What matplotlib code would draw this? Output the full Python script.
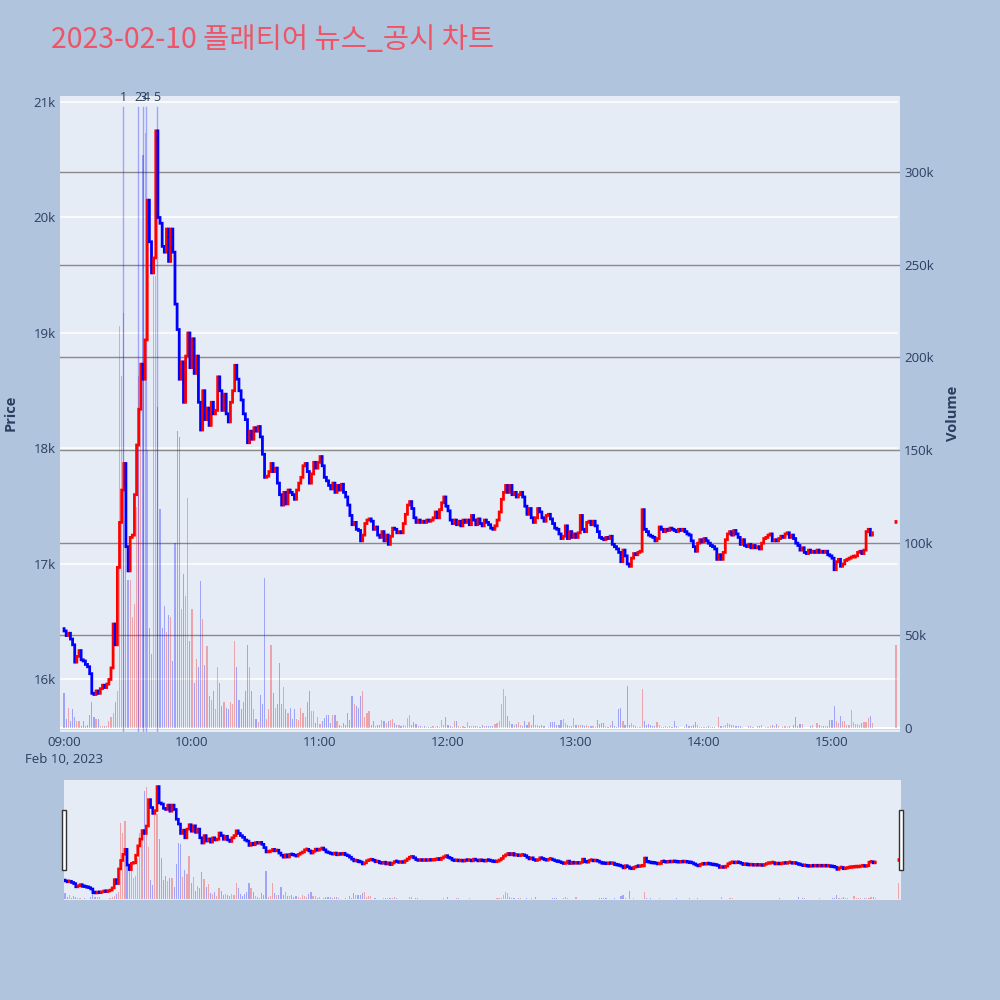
"""
플래티어 2023-02-10 1분봉 + 거래량 차트 (뉴스/공시 시점 표시)
"""
import numpy as np
import pandas as pd

import matplotlib
matplotlib.use('Agg')
import matplotlib.pyplot as plt
import matplotlib.transforms as mtransforms
from matplotlib.patches import Rectangle

plt.rcParams['font.family'] = ['Open Sans', 'Noto Sans CJK KR', 'DejaVu Sans']
plt.rcParams['path.simplify'] = False

TITLE = '2023-02-10 플래티어 뉴스_공시 차트'
START = '2023-02-10 09:00'

# 1분봉 시가(첫 봉) / 종가 09:00 ~ 15:19
FIRST_OPEN = 16440
CLOSES = [
    16420, 16380, 16400, 16350, 16300, 16150, 16200, 16250, 16170, 16160,
    16130, 16110, 16050, 15880, 15870, 15900, 15880, 15920, 15950, 15930,
    15960, 16000, 16100, 16480, 16300, 16970, 17360, 17640, 17870, 17150,
    16940, 17230, 17250, 17600, 18030, 18340, 18730, 18600, 18940, 20150,
    19790, 19520, 19650, 20750, 20000, 19950, 19750, 19700, 19900, 19620,
    19900, 19700, 19250, 19030, 18600, 18750, 18400, 18800, 19000, 18700,
    18950, 18650, 18800, 18400, 18160, 18500, 18250, 18350, 18200, 18400,
    18300, 18330, 18620, 18500, 18330, 18470, 18300, 18230, 18400, 18500,
    18720, 18600, 18500, 18420, 18300, 18250, 18050, 18150, 18080, 18180,
    18150, 18190, 18100, 17950, 17750, 17760, 17800, 17870, 17800, 17830,
    17700, 17600, 17510, 17620, 17520, 17640, 17620, 17600, 17560, 17640,
    17700, 17750, 17850, 17870, 17800, 17700, 17780, 17880, 17830, 17880,
    17930, 17850, 17750, 17720, 17680, 17650, 17700, 17620, 17680, 17640,
    17690, 17620, 17580, 17510, 17420, 17340, 17360, 17300, 17290, 17200,
    17250, 17350, 17380, 17390, 17370, 17300, 17320, 17250, 17230, 17280,
    17200, 17250, 17170, 17240, 17310, 17300, 17270, 17280, 17270, 17350,
    17430, 17510, 17540, 17480, 17400, 17360, 17380, 17360, 17370, 17360,
    17380, 17370, 17380, 17400, 17450, 17400, 17470, 17530, 17580, 17500,
    17460, 17380, 17350, 17380, 17340, 17370, 17330, 17380, 17360, 17380,
    17340, 17420, 17380, 17340, 17390, 17350, 17330, 17380, 17360, 17340,
    17310, 17300, 17330, 17380, 17450, 17560, 17620, 17680, 17620, 17680,
    17600, 17620, 17580, 17600, 17620, 17580, 17500, 17430, 17480, 17400,
    17360, 17400, 17480, 17450, 17400, 17370, 17420, 17430, 17390, 17350,
    17310, 17300, 17260, 17220, 17240, 17330, 17220, 17280, 17230, 17260,
    17230, 17270, 17420, 17300, 17280, 17360, 17370, 17340, 17370, 17330,
    17280, 17230, 17220, 17210, 17230, 17220, 17240, 17170, 17150, 17130,
    17100, 17020, 17120, 17070, 17000, 16980, 17050, 17090, 17080, 17100,
    17110, 17470, 17300, 17280, 17250, 17240, 17230, 17200, 17220, 17320,
    17300, 17280, 17300, 17290, 17310, 17300, 17290, 17280, 17300, 17290,
    17300, 17280, 17260, 17250, 17200, 17150, 17110, 17180, 17210, 17190,
    17220, 17200, 17180, 17160, 17150, 17130, 17040, 17080, 17040, 17100,
    17210, 17260, 17280, 17250, 17290, 17260, 17230, 17170, 17210, 17160,
    17150, 17170, 17140, 17160, 17140, 17150, 17130, 17180, 17220, 17230,
    17250, 17260, 17200, 17210, 17200, 17220, 17240, 17230, 17260, 17270,
    17230, 17250, 17220, 17180, 17160, 17120, 17140, 17100, 17090, 17120,
    17100, 17110, 17100, 17120, 17100, 17110, 17100, 17110, 17080, 17070,
    17050, 16950, 17020, 17040, 16980, 17000, 17030, 17040, 17050, 17060,
    17060, 17070, 17100, 17110, 17090, 17120, 17280, 17300, 17250, 17270,
]
VOLUMES = [
    19000, 5000, 11000, 4000, 10000, 6000, 4000, 4000, 1000, 4000,
    1000, 1500, 7000, 14000, 6000, 5000, 5000, 1000, 800, 800,
    800, 4000, 6000, 8000, 14000, 20000, 217000, 190000, 224000, 139000,
    80000, 80000, 60000, 67000, 119000, 190000, 190000, 309000, 321000, 150000,
    54000, 40000, 244000, 244000, 173000, 118000, 54000, 66000, 52000, 61000,
    60000, 36000, 100000, 160000, 157000, 64000, 83000, 71000, 124000, 47000,
    64000, 24000, 37000, 33000, 79000, 59000, 34000, 44000, 17000, 15000,
    20000, 10000, 33000, 24000, 12000, 14000, 11000, 10000, 14000, 13000,
    47000, 33000, 15000, 10000, 14000, 20000, 45000, 33000, 20000, 10000,
    5000, 3000, 18000, 13000, 81000, 5000, 10000, 45000, 19000, 11000,
    13000, 35000, 13000, 22000, 10000, 8000, 11000, 5000, 10000, 5000,
    4500, 11000, 8000, 6000, 14000, 20000, 9000, 9000, 2700, 6000,
    2000, 3600, 5400, 7000, 7000, 2700, 7000, 7000, 3600, 1800,
    1000, 2700, 1800, 8000, 4500, 17000, 13000, 12000, 11000, 17000,
    20000, 6000, 8000, 9000, 1800, 4000, 1000, 1800, 1500, 4500,
    4000, 2700, 4000, 4500, 5000, 2500, 1800, 1800, 1300, 1800,
    1000, 5400, 7000, 1800, 3000, 2300, 1300, 900, 600, 800,
    500, 700, 600, 900, 500, 800, 600, 4500, 1800, 6000,
    1800, 900, 500, 4000, 3600, 900, 500, 900, 600, 3000,
    900, 1300, 900, 1300, 900, 700, 1800, 1300, 1300, 1300,
    1300, 1300, 2300, 2700, 4000, 13000, 21000, 17000, 6300, 3600,
    2300, 1800, 2200, 3000, 1800, 1300, 4000, 1800, 3000, 1800,
    6800, 1800, 1800, 1300, 1800, 900, 200, 500, 3400, 3000,
    3200, 1800, 1800, 4500, 5000, 2700, 1800, 1300, 900, 5400,
    1800, 1800, 1800, 1800, 1300, 1800, 1300, 1300, 1300, 500,
    4500, 2300, 2500, 2500, 1300, 500, 1800, 3600, 1300, 500,
    10000, 11000, 3600, 1800, 22500, 1800, 2700, 1800, 900, 300,
    300, 21000, 3600, 1800, 2300, 1800, 900, 900, 3200, 1500,
    400, 400, 900, 400, 900, 300, 4000, 900, 500, 200,
    200, 400, 2300, 1300, 1300, 1800, 3000, 1800, 500, 400,
    300, 400, 900, 300, 500, 500, 200, 6000, 1300, 900,
    1500, 2500, 2300, 1800, 1800, 1300, 900, 900, 400, 200,
    200, 900, 1300, 400, 200, 900, 1300, 1800, 200, 400,
    400, 900, 1800, 900, 2300, 900, 200, 400, 900, 400,
    900, 200, 1800, 6000, 900, 2300, 2300, 100, 200, 200,
    1300, 1800, 200, 2700, 1800, 900, 900, 1300, 1300, 4500,
    4500, 12000, 3600, 2700, 6300, 3600, 3600, 1800, 1800, 9900,
    3200, 2300, 2300, 1800, 2700, 3200, 3400, 5400, 6300, 2700,
]

# 장 마감 동시호가
AUCTION_TIME = '2023-02-10 15:30'
AUCTION_PRICE = 17360
AUCTION_VOLUME = 45000

# 뉴스/공시 시점
NEWS_TIMES = ['09:27:48', '09:34:48', '09:37:00', '09:38:36', '09:43:27']
NEWS_LABELS = ['1', '2', '3', '4', '5']

PRICE_TICKS = [16000, 17000, 18000, 19000, 20000, 21000]
PRICE_TICK_LABELS = ['16k', '17k', '18k', '19k', '20k', '21k']
VOLUME_TICKS = [0, 50000, 100000, 150000, 200000, 250000, 300000]
VOLUME_TICK_LABELS = ['0', '50k', '100k', '150k', '200k', '250k', '300k']
HOUR_TICKS = ['09:00', '10:00', '11:00', '12:00', '13:00', '14:00', '15:00']
DATE_LABEL = 'Feb 10, 2023'

BG = '#b0c4de'
PLOT_BG = '#e5ecf6'
TEXT = '#2a3f5f'
UP = '#ff0000'
DOWN = '#0000ff'

X_RANGE = (-1.9, 391.9)
PRICE_RANGE = (15545, 21052)
VOLUME_RANGE = (-2200, 340900)

assert len(CLOSES) == len(VOLUMES)

start = pd.Timestamp(START)


def to_minutes(ts):
    return (pd.Timestamp(ts) - start).total_seconds() / 60


times = pd.date_range(START, periods=len(CLOSES), freq='min')
xs = np.append(((times - start).total_seconds() / 60).to_numpy(), to_minutes(AUCTION_TIME))
closes = np.array(CLOSES + [AUCTION_PRICE], dtype=float)
opens = np.array([FIRST_OPEN] + CLOSES[:-1] + [AUCTION_PRICE], dtype=float)
vols = np.array(VOLUMES + [AUCTION_VOLUME], dtype=float)
colors = np.where(closes >= opens, UP, DOWN)


def draw_chart(ax_vol, ax_price, lw, min_body):
    ax_vol.bar(xs, vols, width=0.55, color=colors, alpha=0.3, linewidth=0, zorder=2)
    lo = np.minimum(opens, closes)
    hi = np.maximum(np.maximum(opens, closes), lo + min_body)
    lc = ax_price.vlines(xs, lo, hi, colors=colors, linewidth=lw, zorder=3)
    lc.set_capstyle('projecting')
    lc.set_snap(False)
    ax_vol.set_xlim(*X_RANGE)
    ax_vol.set_ylim(*VOLUME_RANGE)
    ax_price.set_ylim(*PRICE_RANGE)


def hide_spines(ax):
    for s in ax.spines.values():
        s.set_visible(False)


fig = plt.figure(figsize=(10, 10), dpi=100, facecolor=BG)

# 메인 차트
rect = [0.060, 0.268, 0.840, 0.636]
ax_vol = fig.add_axes(rect, facecolor=PLOT_BG)
ax_price = fig.add_axes(rect, sharex=ax_vol)
ax_price.patch.set_visible(False)
hide_spines(ax_vol)
hide_spines(ax_price)

ax_vol.set_axisbelow(True)
ax_vol.grid(axis='y', color='#8a8a8a', linewidth=1.0)
ax_vol.axhline(0, color='white', linewidth=1.5, zorder=1)
trans = mtransforms.blended_transform_factory(ax_vol.transAxes, ax_price.transData)
for p in PRICE_TICKS:
    ax_vol.plot([0, 0.996], [p, p], transform=trans, color='white', linewidth=1.1, zorder=0.8)

draw_chart(ax_vol, ax_price, lw=2.0, min_body=8)

# 뉴스 시점 세로선
news_x = [to_minutes('2023-02-10 ' + t) for t in NEWS_TIMES]
ttrans = mtransforms.blended_transform_factory(ax_price.transData, ax_price.transAxes)
for nx, label in zip(news_x, NEWS_LABELS):
    ax_price.axvline(nx, ymin=0, ymax=0.983, color=DOWN, alpha=0.3, linewidth=1.0, zorder=2)
    ax_price.text(nx, 0.998, label, transform=ttrans, ha='center', va='center',
                  fontsize=9, color=TEXT)

hour_x = [to_minutes('2023-02-10 ' + h) for h in HOUR_TICKS]
hour_labels = [HOUR_TICKS[0] + '\n' + DATE_LABEL] + HOUR_TICKS[1:]
ax_vol.set_xticks(hour_x, hour_labels)
ax_vol.tick_params(axis='x', length=0, pad=3, labelsize=9.5, labelcolor=TEXT)
for lbl in ax_vol.get_xticklabels():
    lbl.set_linespacing(1.35)
ax_vol.yaxis.tick_right()
ax_vol.set_yticks(VOLUME_TICKS, VOLUME_TICK_LABELS)
ax_vol.tick_params(axis='y', length=0, pad=3, labelsize=9.5, labelcolor=TEXT)

ax_price.tick_params(axis='x', bottom=False, labelbottom=False)
ax_price.yaxis.tick_left()
ax_price.set_yticks(PRICE_TICKS, PRICE_TICK_LABELS)
ax_price.tick_params(axis='y', length=0, pad=3, labelsize=9.5, labelcolor=TEXT)

fig.text(0.011, 0.587, 'Price', rotation=90, ha='center', va='center',
         fontsize=10.5, fontweight='bold', color=TEXT)
fig.text(0.953, 0.587, 'Volume', rotation=90, ha='center', va='center',
         fontsize=10.5, fontweight='bold', color=TEXT)
fig.text(0.051, 0.960, TITLE, ha='left', va='center', fontsize=20.5, color='#ef5466',
         family=['Noto Sans CJK KR', 'DejaVu Sans'])

# 레인지 슬라이더
srect = [0.064, 0.100, 0.837, 0.120]
sl_vol = fig.add_axes(srect, facecolor=PLOT_BG)
sl_price = fig.add_axes(srect, sharex=sl_vol)
sl_price.patch.set_visible(False)
for a in (sl_vol, sl_price):
    hide_spines(a)
    a.set_xticks([])
    a.set_yticks([])
draw_chart(sl_vol, sl_price, lw=1.9, min_body=40)
sl_vol.set_xlim(-0.5, 391)

for hx in (0.0615, 0.8985):
    fig.add_artist(Rectangle((hx, 0.130), 0.004, 0.060, transform=fig.transFigure,
                             facecolor='white', edgecolor='#333333', linewidth=1.0))

plt.savefig('out.png', dpi=100, facecolor=BG)
plt.close()
